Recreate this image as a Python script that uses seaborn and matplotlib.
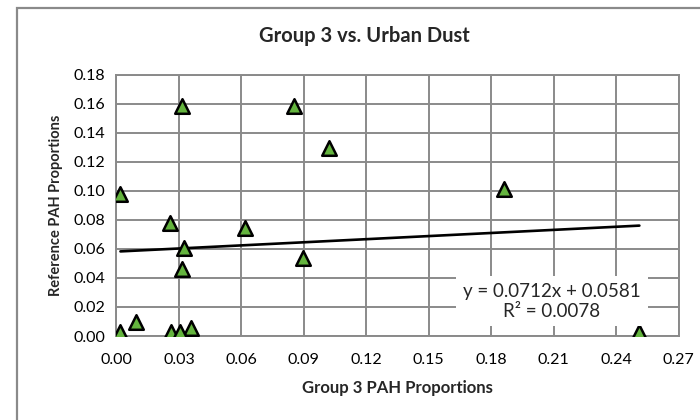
import matplotlib
matplotlib.use("Agg")
import matplotlib.pyplot as plt
from matplotlib.patches import Rectangle
import seaborn as sns
import pandas as pd
import numpy as np

# values
group3 = [0.0313, 0.0852, 0.1023, 0.1864, 0.0019, 0.0255, 0.0616, 0.0324,
          0.0894, 0.0313, 0.0095, 0.0358, 0.0019, 0.0262, 0.0303, 0.2512]
urban_dust = [0.158, 0.158, 0.1296, 0.101, 0.0977, 0.0776, 0.0741, 0.0604,
              0.0535, 0.0459, 0.0096, 0.0057, 0.003, 0.003, 0.003, 0.003]

# trendline as reported on the chart
fit_slope = 0.0712
fit_intercept = 0.0581
fit_r2 = 0.0078

x_ticks = [0.00, 0.03, 0.06, 0.09, 0.12, 0.15, 0.18, 0.21, 0.24, 0.27]
y_ticks = [0.00, 0.02, 0.04, 0.06, 0.08, 0.10, 0.12, 0.14, 0.16, 0.18]

df = pd.DataFrame({"group3": group3, "urban": urban_dust})

sns.set_style("white")
plt.rcParams["font.family"] = ["Lato", "DejaVu Sans"]

grid_col = "#8a8a8a"

fig = plt.figure(figsize=(7, 4.2), dpi=100)
ax = fig.add_axes([0.1664, 0.2, 0.8029, 0.6226])

# trendline across the data range
xs = np.array([min(group3), max(group3)])
trend = pd.DataFrame({"x": xs, "y": fit_intercept + fit_slope * xs})
sns.lineplot(data=trend, x="x", y="y", color="black", linewidth=1.9, ax=ax, zorder=3)

sns.scatterplot(data=df, x="group3", y="urban", marker="^", s=110,
                color="#64b43e", edgecolor="black", linewidth=1.8, ax=ax, zorder=4)

ax.set_xlim(0, 0.27)
ax.set_ylim(0, 0.18)
ax.set_xticks(x_ticks)
ax.set_yticks(y_ticks)
ax.set_xticklabels([f"{v:.2f}" for v in x_ticks])
ax.set_yticklabels([f"{v:.2f}" for v in y_ticks])
ax.grid(True, color=grid_col, linewidth=1.4)
ax.set_axisbelow(True)
for sp in ax.spines.values():
    sp.set_color(grid_col)
    sp.set_linewidth(1.4)
ax.tick_params(axis="both", direction="out", length=4, width=1.4, color=grid_col,
               labelsize=11.5, labelcolor="black", pad=4)
ax.tick_params(axis="x", pad=8)

ax.set_xlabel("Group 3 PAH Proportions", fontsize=12, fontweight="bold")
ax.set_ylabel("Reference PAH Proportions", fontsize=10.5, fontweight="bold")
ax.xaxis.set_label_coords(0.5, -0.168)
ax.yaxis.set_label_coords(-0.095, 0.5)

ax.text(0.775, 0.132, f"y = {fit_slope}x + {fit_intercept}\nR² = {fit_r2}",
        transform=ax.transAxes, ha="center", va="center", fontsize=13.5,
        linespacing=1.15, zorder=5,
        bbox=dict(facecolor="white", edgecolor="none", pad=5))

fig.text(0.52, 0.914, "Group 3 vs. Urban Dust", ha="center", va="center",
         fontsize=14.5, fontweight="bold")

# outer chart border (right and bottom run off the image)
fig.patches.append(Rectangle((16.5 / 700, -0.05), 1.0, 1.05 - 8.5 / 420,
                             transform=fig.transFigure, fill=False,
                             edgecolor=grid_col, linewidth=1.6))

fig.savefig("out.png", dpi=100)
plt.close(fig)
